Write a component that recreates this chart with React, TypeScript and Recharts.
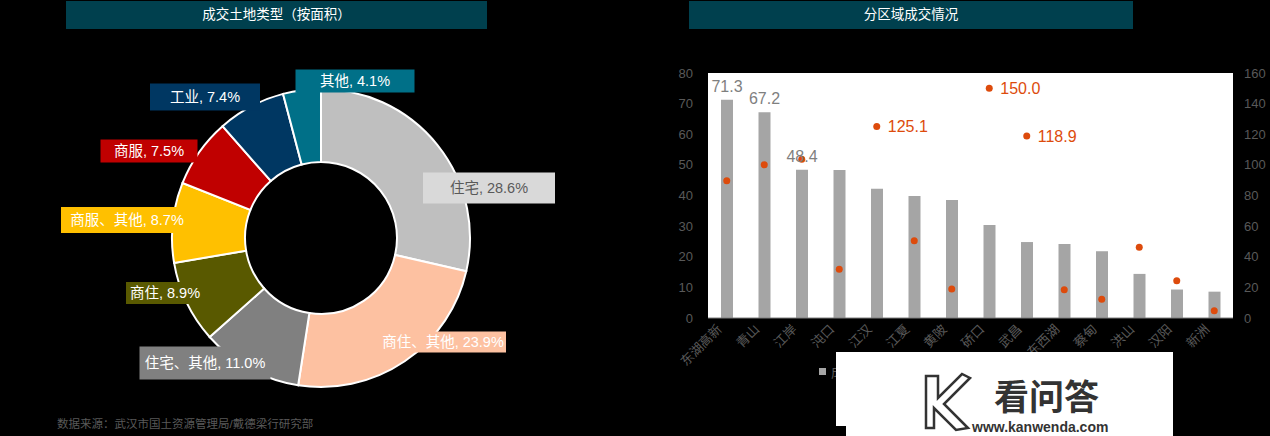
import React from 'react';
import {
  PieChart,
  Pie,
  Cell,
  ComposedChart,
  Bar,
  Line,
  XAxis,
  YAxis,
  CartesianGrid,
  LabelList,
} from 'recharts';

// 成交土地类型（按面积）
const landTypes = ['住宅', '商住、其他', '住宅、其他', '商住', '商服、其他', '商服', '工业', '其他'];
const landShares = [28.6, 23.9, 11.0, 8.9, 8.7, 7.5, 7.4, 4.1];

// 分区域成交情况
const districts = ['东湖高新', '青山', '江岸', '沌口', '江汉', '江夏', '黄陂', '硚口', '武昌', '东西湖', '蔡甸', '洪山', '汉阳', '新洲'];
const dealArea = [71.3, 67.2, 48.4, 48.3, 42.2, 39.8, 38.5, 30.4, 24.8, 24.2, 21.8, 14.4, 9.3, 8.6];
const floorPrice = [89.7, 100.1, 103.6, 31.8, 125.1, 50.5, 18.9, 150.0, 118.9, 18.5, 12.2, 46.2, 24.4, 4.8];
const leftTicks = [0, 10, 20, 30, 40, 50, 60, 70, 80];
const rightTicks = [0, 20, 40, 60, 80, 100, 120, 140, 160];

const FONT = "'Liberation Sans', 'Noto Sans CJK SC', sans-serif";
const sliceColors = ['#BFBFBF', '#FDC1A1', '#808080', '#595900', '#FFC000', '#C00000', '#003762', '#007088'];
const boxColors = ['#D9D9D9', '#FDC1A1', '#808080', '#595900', '#FFC000', '#C00000', '#003762', '#007088'];
const boxText = ['#595959', '#fff', '#fff', '#fff', '#fff', '#fff', '#fff', '#fff'];
// label box placement relative to pie centre (dx, dy of box centre, width, height)
const boxPlace = [
  [168, -50, 132, 31],
  [122, 104, 126, 21],
  [-116, 125, 131, 33],
  [-156, 55, 78, 22],
  [-194, -18, 132, 26],
  [-172, -87, 97, 23],
  [-116, -141, 110, 27],
  [34, -157, 119, 23],
];

const pieData = landTypes.map((name, i) => ({ name, value: landShares[i] }));
const barData = districts.map((district, i) => ({ district, area: dealArea[i], price: floorPrice[i] }));

const PieLabel = (props: any) => {
  const { cx, cy, index, name, value } = props;
  const [dx, dy, w, h] = boxPlace[index];
  const x = cx + dx;
  const y = cy + dy;
  return (
    <g>
      <rect x={x - w / 2} y={y - h / 2} width={w} height={h} fill={boxColors[index]} />
      <text x={x} y={y + 5} textAnchor="middle" fontSize={14.5} fill={boxText[index]} fontFamily={FONT}>
        {`${name}, ${Number(value).toFixed(1)}%`}
      </text>
    </g>
  );
};

const AreaLabel = (props: any) => {
  const { x, y, width, value, index } = props;
  if (index > 2) return null;
  return (
    <text x={x + width / 2} y={y - 8} textAnchor="middle" fontSize={16} fill="#7F7F7F" fontFamily={FONT}>
      {Number(value).toFixed(1)}
    </text>
  );
};

const PriceLabel = (props: any) => {
  const { x, y, value } = props;
  if (value < 110) return null;
  return (
    <text x={x + 11} y={y + 6} fontSize={16} fill="#DD4B0C" fontFamily={FONT}>
      {Number(value).toFixed(1)}
    </text>
  );
};

const DistrictTick = (props: any) => {
  const { x, y, payload } = props;
  return (
    <text
      x={x - 4}
      y={y + 4}
      textAnchor="end"
      fontSize={13}
      fill="#595959"
      fontFamily={FONT}
      transform={`rotate(-45, ${x - 4}, ${y + 4})`}
    >
      {payload.value}
    </text>
  );
};

const header = (left: number, width: number, text: string) => (
  <div
    style={{
      position: 'absolute',
      left,
      top: 1,
      width,
      height: 28,
      background: '#00404E',
      color: '#fff',
      fontSize: 13.5,
      lineHeight: '28px',
      textAlign: 'center',
      fontFamily: FONT,
    }}
  >
    {text}
  </div>
);

export default function App() {
  return (
    <div
      style={{
        position: 'absolute',
        left: 0,
        top: 0,
        width: 1270,
        height: 436,
        background: '#000',
        overflow: 'hidden',
        fontFamily: FONT,
      }}
    >
      {header(66, 421, '成交土地类型（按面积）')}
      {header(689, 444, '分区域成交情况')}

      <div style={{ position: 'absolute', left: 0, top: 0 }}>
        <PieChart width={640} height={436} margin={{ top: 0, right: 0, bottom: 0, left: 0 }}>
          <Pie
            data={pieData}
            dataKey="value"
            nameKey="name"
            cx={321}
            cy={238}
            innerRadius={76}
            outerRadius={149}
            startAngle={90}
            endAngle={-270}
            stroke="#fff"
            strokeWidth={2}
            label={PieLabel}
            labelLine={false}
            isAnimationActive={false}
          >
            {pieData.map((d, i) => (
              <Cell key={d.name} fill={sliceColors[i]} />
            ))}
          </Pie>
        </PieChart>
      </div>

      <div
        style={{
          position: 'absolute',
          left: 57,
          top: 415,
          fontSize: 11.5,
          color: '#595959',
          whiteSpace: 'nowrap',
        }}
      >
        数据来源：武汉市国土资源管理局/戴德梁行研究部
      </div>

      <div style={{ position: 'absolute', left: 640, top: 0 }}>
        <ComposedChart width={630} height={436} data={barData} margin={{ top: 73, right: 0, bottom: 58, left: 28 }}>
          <CartesianGrid fill="#fff" stroke="none" horizontal={false} vertical={false} />
          <XAxis
            dataKey="district"
            interval={0}
            height={60}
            tickLine={false}
            axisLine={{ stroke: '#7F7F7F' }}
            tick={DistrictTick}
          />
          <YAxis
            yAxisId="left"
            domain={[0, 80]}
            ticks={leftTicks}
            width={40}
            tickLine={false}
            axisLine={false}
            tickMargin={9}
            tick={{ fontSize: 13, fill: '#595959', fontFamily: FONT }}
          />
          <YAxis
            yAxisId="right"
            orientation="right"
            domain={[0, 160]}
            ticks={rightTicks}
            width={37}
            tickLine={false}
            axisLine={false}
            tickMargin={5}
            tick={{ fontSize: 13, fill: '#595959', fontFamily: FONT, textAnchor: 'start' }}
          />
          <Bar yAxisId="left" dataKey="area" fill="#A5A5A5" barSize={12} isAnimationActive={false}>
            <LabelList dataKey="area" content={AreaLabel} />
          </Bar>
          <Line
            yAxisId="right"
            dataKey="price"
            stroke="none"
            dot={{ r: 3.5, fill: '#DD4B0C', stroke: 'none' }}
            activeDot={false}
            isAnimationActive={false}
          >
            <LabelList dataKey="price" content={PriceLabel} />
          </Line>
        </ComposedChart>
      </div>

      {/* legend, mostly covered by the watermark */}
      <div style={{ position: 'absolute', left: 819, top: 368, width: 7, height: 7, background: '#A5A5A5' }} />
      <div style={{ position: 'absolute', left: 831, top: 362, fontSize: 13, color: '#595959', whiteSpace: 'nowrap' }}>
        成交面积
      </div>

      {/* watermark overlay */}
      <div style={{ position: 'absolute', left: 836, top: 352, width: 337, height: 74, background: '#fff' }} />
      <div style={{ position: 'absolute', left: 846, top: 426, width: 327, height: 10, background: '#fff' }} />
      <svg style={{ position: 'absolute', left: 0, top: 0 }} width={1270} height={436}>
        <path d="M926 376 L938 376 L938 398 L962 374 L970 378 L944 404 L968 428 L956 430 L934 408 L934 428 L926 428 Z" fill="none" stroke="#333" strokeWidth={2.5} />
        <text x={994} y={410} fontSize={35} fontWeight="bold" fill="#333" fontFamily="'Noto Sans CJK SC', sans-serif">
          看问答
        </text>
        <text x={972} y={432} fontSize={14} fontWeight="bold" fill="#333" fontFamily="'Liberation Sans', sans-serif">
          www.kanwenda.com
        </text>
      </svg>
    </div>
  );
}
